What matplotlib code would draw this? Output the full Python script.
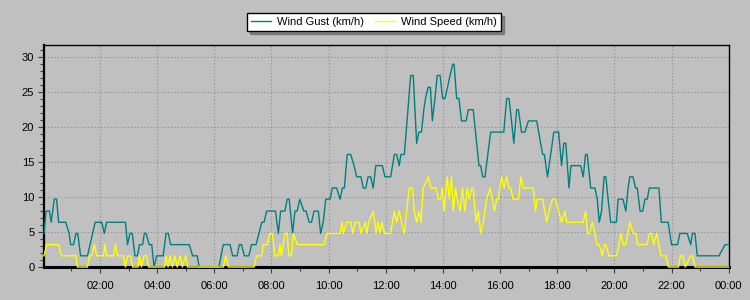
import matplotlib.pyplot as plt
from matplotlib.ticker import MultipleLocator, FuncFormatter

plt.rcParams['font.family'] = ['Liberation Sans', 'DejaVu Sans']

# hours of day (vertices) and values in km/h
gust_t = [0.04, 0.11, 0.23, 0.29, 0.40, 0.48, 0.55, 0.80, 0.92, 0.97, 1.07, 1.16, 1.22, 1.32,
          1.56, 1.83, 2.06, 2.15, 2.23, 2.89, 2.96, 3.05, 3.13, 3.22, 3.31, 3.38, 3.49, 3.55,
          3.61, 3.72, 3.81, 3.89, 3.98, 4.21, 4.31, 4.39, 4.47, 5.12, 5.24, 5.40, 5.47, 6.16,
          6.31, 6.55, 6.64, 6.80, 6.87, 6.95, 7.05, 7.21, 7.30, 7.46, 7.56, 7.66, 7.74, 7.83,
          8.14, 8.24, 8.32, 8.47, 8.55, 8.62, 8.74, 8.82, 8.90, 8.99, 9.13, 9.21, 9.32, 9.40,
          9.49, 9.64, 9.72, 9.81, 9.90, 10.05, 10.13, 10.28, 10.40, 10.48, 10.55, 10.65, 10.77,
          10.89, 10.98, 11.13, 11.21, 11.30, 11.38, 11.47, 11.56, 11.65, 11.88, 11.97, 12.17,
          12.30, 12.38, 12.47, 12.53, 12.65, 12.87, 12.96, 13.08, 13.16, 13.25, 13.33, 13.39,
          13.48, 13.56, 13.63, 13.72, 13.80, 13.90, 13.99, 14.07, 14.16, 14.25, 14.34, 14.39,
          14.48, 14.56, 14.65, 14.81, 14.89, 15.06, 15.26, 15.32, 15.39, 15.47, 15.67, 16.13,
          16.23, 16.31, 16.40, 16.48, 16.58, 16.64, 16.75, 16.87, 16.99, 17.28, 17.49, 17.55,
          17.66, 17.88, 18.05, 18.15, 18.23, 18.30, 18.41, 18.48, 18.82, 18.91, 18.99, 19.05,
          19.17, 19.32, 19.40, 19.47, 19.55, 19.64, 19.70, 19.78, 19.87, 20.07, 20.13, 20.30,
          20.40, 20.48, 20.54, 20.65, 20.74, 20.80, 20.90, 20.99, 21.07, 21.15, 21.22, 21.56,
          21.64, 21.88, 22.00, 22.21, 22.29, 22.55, 22.67, 22.73, 22.82, 22.90, 23.66, 23.87,
          24.0]
gust_v = [4.8, 8.0, 8.0, 6.4, 9.7, 9.7, 6.4, 6.4, 4.8, 3.2, 3.2, 4.8, 4.8, 1.6,
          1.6, 6.4, 6.4, 4.8, 6.4, 6.4, 3.2, 4.8, 4.8, 1.6, 1.6, 3.2, 3.2, 4.8,
          4.8, 3.2, 3.2, 0, 1.6, 1.6, 4.8, 4.8, 3.2, 3.2, 1.6, 1.6, 0, 0,
          3.2, 3.2, 1.6, 1.6, 3.2, 3.2, 1.6, 1.6, 3.2, 3.2, 4.8, 6.4, 6.4, 8.0,
          8.0, 4.8, 8.0, 8.0, 9.7, 9.7, 4.8, 8.0, 8.0, 9.7, 8.0, 8.0, 6.4, 6.4,
          8.0, 8.0, 4.8, 6.4, 9.7, 9.7, 11.3, 11.3, 9.7, 11.3, 11.3, 16.1, 16.1,
          14.5, 12.9, 12.9, 11.3, 11.3, 12.9, 12.9, 11.3, 14.5, 14.5, 12.9, 12.9,
          16.1, 16.1, 14.5, 16.1, 16.1, 27.4, 27.4, 17.7, 19.3, 19.3, 22.5, 24.1,
          25.7, 25.7, 20.9, 24.1, 27.4, 27.4, 24.1, 24.1, 25.7, 27.4, 29.0, 29.0,
          24.1, 24.1, 20.9, 20.9, 22.5, 22.5, 14.5, 14.5, 12.9, 12.9, 19.3, 19.3,
          24.1, 24.1, 20.9, 17.7, 22.5, 22.5, 19.3, 19.3, 20.9, 20.9, 16.1, 16.1,
          12.9, 19.3, 19.3, 14.5, 17.7, 17.7, 11.3, 14.5, 14.5, 12.9, 16.1, 16.1,
          11.3, 11.3, 9.7, 6.4, 8.0, 12.9, 12.9, 9.7, 6.4, 6.4, 9.7, 9.7,
          8.0, 11.3, 12.9, 12.9, 11.3, 11.3, 8.0, 8.0, 9.7, 9.7, 11.3, 11.3,
          6.4, 6.4, 3.2, 3.2, 4.8, 4.8, 3.2, 4.8, 4.8, 1.6, 1.6, 3.2,
          3.2]

speed_t = [0.04, 0.13, 0.55, 0.65, 1.16, 1.21, 1.56, 1.63, 1.71, 1.80, 1.88, 2.12, 2.17, 2.23,
           2.47, 2.54, 2.61, 2.82, 2.89, 2.96, 3.07, 3.14, 3.33, 3.38, 3.45, 3.54, 3.63, 3.70,
           4.26, 4.31, 4.38, 4.45, 4.53, 4.62, 4.70, 4.80, 4.88, 5.00, 5.06, 6.32, 6.40, 6.49,
           7.39, 7.48, 7.66, 7.71, 7.85, 7.94, 8.03, 8.12, 8.24, 8.30, 8.35, 8.47, 8.55, 8.61,
           8.70, 8.76, 8.90, 9.84, 9.95, 10.40, 10.47, 10.51, 10.63, 10.78, 10.84, 10.93, 11.07,
           11.13, 11.28, 11.33, 11.40, 11.56, 11.66, 11.73, 11.80, 11.86, 11.96, 12.17, 12.30,
           12.38, 12.47, 12.55, 12.65, 12.82, 12.93, 13.00, 13.08, 13.16, 13.23, 13.31, 13.49,
           13.57, 13.76, 13.84, 13.92, 13.98, 14.04, 14.15, 14.22, 14.30, 14.36, 14.44, 14.51,
           14.60, 14.68, 14.77, 14.85, 14.92, 15.00, 15.06, 15.16, 15.24, 15.32, 15.41, 15.53,
           15.65, 15.73, 15.80, 15.88, 15.94, 16.05, 16.14, 16.23, 16.31, 16.37, 16.46, 16.64,
           16.73, 16.81, 17.16, 17.24, 17.30, 17.49, 17.63, 17.71, 17.83, 17.94, 18.15, 18.27,
           18.33, 18.91, 18.99, 19.06, 19.14, 19.23, 19.40, 19.47, 19.58, 19.65, 19.70, 19.81,
           20.08, 20.23, 20.31, 20.40, 20.54, 20.66, 20.75, 20.81, 21.15, 21.22, 21.30, 21.38,
           21.48, 21.63, 21.80, 21.89, 22.24, 22.31, 22.39, 22.48, 22.67, 22.73, 22.82, 24.0]
speed_v = [1.6, 3.2, 3.2, 1.6, 1.6, 0, 0, 1.6, 1.6, 3.2, 1.6, 1.6, 3.2, 1.6,
           1.6, 3.2, 1.6, 1.6, 0, 1.6, 1.6, 0, 0, 1.6, 0, 1.6, 1.6, 0,
           0, 1.6, 0, 1.6, 0, 1.6, 0, 1.6, 0, 1.6, 0, 0, 1.6, 0,
           0, 1.6, 1.6, 3.2, 3.2, 4.8, 4.8, 1.6, 1.6, 3.2, 1.6, 4.8, 4.8, 1.6,
           1.6, 4.8, 3.2, 3.2, 4.8, 4.8, 6.4, 4.8, 6.4, 6.4, 4.8, 6.4, 6.4,
           4.8, 6.4, 4.8, 6.4, 8.0, 4.8, 6.4, 4.8, 6.4, 4.8, 4.8, 8.0,
           6.4, 8.0, 6.4, 4.8, 11.3, 11.3, 8.0, 6.4, 8.0, 6.4, 11.3, 12.9,
           11.3, 11.3, 9.7, 9.7, 11.3, 8.0, 12.9, 9.7, 12.9, 8.0, 11.3, 9.7,
           8.0, 11.3, 8.0, 11.3, 9.7, 11.3, 11.3, 6.4, 8.0, 4.8, 6.4, 9.7,
           11.3, 9.7, 8.0, 9.7, 9.7, 12.9, 11.3, 12.9, 11.3, 11.3, 9.7, 9.7,
           12.9, 11.3, 11.3, 8.0, 9.7, 9.7, 6.4, 8.0, 9.7, 9.7, 6.4, 8.0,
           6.4, 6.4, 8.0, 4.8, 4.8, 6.4, 3.2, 3.2, 1.6, 3.2, 3.2, 1.6,
           1.6, 4.8, 3.2, 3.2, 6.4, 4.8, 4.8, 3.2, 3.2, 4.8, 4.8, 3.2,
           4.8, 1.6, 1.6, 0, 0, 1.6, 1.6, 0, 1.6, 1.6, 0, 0]

bg = '#c0c0c0'
fig = plt.figure(figsize=(7.5, 3), dpi=100, facecolor=bg)
ax = fig.add_axes([0.0587, 0.11, 0.9129, 0.741], facecolor=bg)

ax.plot(gust_t, gust_v, color='#008080', lw=1.0, label='Wind Gust (km/h)', clip_on=False, zorder=4)
ax.plot(speed_t, speed_v, color='#ffff00', lw=1.0, label='Wind Speed (km/h)', clip_on=False, zorder=5)

ax.set_xlim(0.04, 24)
ax.set_ylim(0, 31.8)
ax.xaxis.set_major_locator(MultipleLocator(2))
ax.xaxis.set_minor_locator(MultipleLocator(1))
ax.xaxis.set_major_formatter(FuncFormatter(lambda v, p: '%02d:00' % (int(round(v)) % 24)))
ax.yaxis.set_major_locator(MultipleLocator(5))
ax.yaxis.set_minor_locator(MultipleLocator(1))

ax.grid(True, which='major', color='#8c8c8c', linestyle=(0, (1, 2)), linewidth=0.8)
ax.tick_params(which='both', direction='out', color='#404040', labelsize=8, labelcolor='black')
ax.tick_params(which='major', length=4, width=0.8, pad=3)
ax.tick_params(which='minor', length=3, width=0.8)
ax.tick_params(axis='x', pad=6)

for s in ax.spines.values():
    s.set_color('black')
    s.set_linewidth(1.0)
ax.spines['bottom'].set_linewidth(2.2)
ax.spines['left'].set_linewidth(1.6)

leg = fig.legend(loc='center', bbox_to_anchor=(0.499, 1 - 22 / 300), ncol=2, fontsize=8,
                 frameon=True, fancybox=False, shadow=True, edgecolor='black',
                 handlelength=1.8, columnspacing=1.0, borderpad=0.35, handletextpad=0.55,
                 borderaxespad=0)
leg.get_frame().set_facecolor('white')
leg.get_frame().set_linewidth(1.0)

fig.savefig('out.png', dpi=100, facecolor=bg)
